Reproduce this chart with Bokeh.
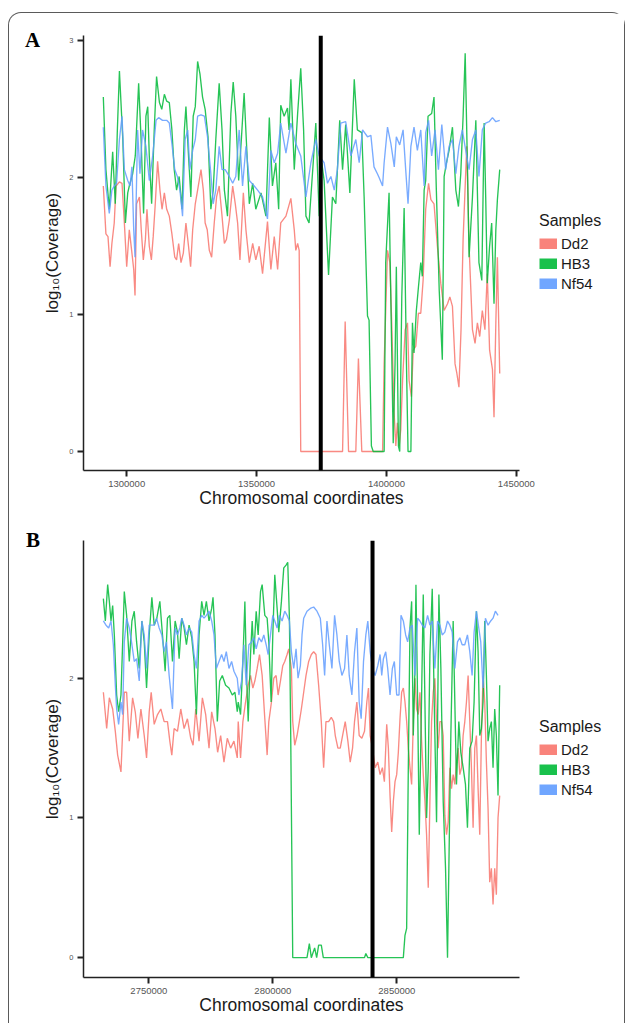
from bokeh.plotting import figure
from bokeh.models import (Span, Legend, LegendItem, Range1d, FixedTicker,
                          BasicTickFormatter, Div)
from bokeh.layouts import column, row
from bokeh.embed import file_html
from bokeh.resources import INLINE

SAMPLES = ["Dd2", "HB3", "Nf54"]
COLORS = ["#F8766D", "#00BA38", "#619CFF"]

# ---------------- Panel A data: (position in kb, log10 coverage) ----------------
A_DD2 = [(1291.0,1.94),(1292.0,1.59),(1292.8,1.57),(1293.6,1.35),(1294.3,1.52),(1295.2,1.67),(1295.9,1.94),
 (1297.2,1.97),(1298.2,1.96),(1299.1,1.67),(1300.0,1.35),(1301.0,1.62),(1301.9,1.47),(1302.7,1.33),(1303.2,1.14),
 (1303.8,1.81),(1304.9,1.86),(1305.6,1.62),(1306.4,1.40),(1307.2,1.55),(1307.8,1.77),(1308.7,1.50),(1309.5,1.40),
 (1310.2,1.57),(1311.0,1.81),(1311.9,2.12),(1312.8,1.91),(1313.6,1.77),(1314.5,1.89),(1315.4,1.77),(1316.4,1.72),
 (1317.4,1.59),(1318.5,1.42),(1319.2,1.40),(1320.0,1.52),(1320.9,1.38),(1321.8,1.45),(1322.8,1.67),(1323.8,1.50),
 (1324.6,1.35),(1325.4,1.62),(1326.4,1.81),(1327.3,1.91),(1328.6,2.06),(1329.5,1.91),(1330.2,1.67),(1331.0,1.62),
 (1331.8,1.47),(1332.7,1.42),(1333.7,1.67),(1334.6,1.86),(1335.6,1.94),(1336.7,1.72),(1337.6,1.52),(1338.4,1.55),
 (1339.5,1.69),(1340.8,1.94),(1341.8,1.81),(1342.7,1.67),(1343.6,1.40),(1344.9,1.89),(1345.9,1.62),(1347.2,1.38),
 (1348.5,1.52),(1349.7,1.40),(1351.0,1.50),(1352.3,1.30),(1354.2,1.68),(1355.5,1.33),(1356.8,1.57),(1358.1,1.33),
 (1359.3,1.67),(1361.3,1.72),(1363.2,1.85),(1364.5,1.62),(1365.1,1.47),(1365.8,1.52),(1366.4,1.47),(1367.0,0.0),
 (1383.1,0.0),(1384.1,0.95),(1385.4,0.0),(1388.2,0.0),(1389.2,0.68),(1390.5,0.0),(1398.5,0.0),(1399.1,0.64),
 (1400.4,1.47),(1401.3,1.38),(1402.1,0.89),(1402.9,0.30),(1403.6,0.04),(1404.2,0.21),(1404.9,0.04),(1405.5,0.16),
 (1406.2,0.52),(1407.2,0.89),(1408.1,0.94),(1408.7,0.52),(1409.6,0.40),(1410.3,0.74),(1411.3,0.77),(1412.3,1.01),
 (1413.2,1.01),(1414.1,1.25),(1415.1,1.77),(1416.2,1.96),(1417.1,1.84),(1418.3,1.81),(1419.6,1.50),(1420.9,1.23),
 (1422.2,1.03),(1423.5,1.08),(1424.4,1.13),(1425.4,1.06),(1426.4,0.64),(1427.1,0.57),(1427.9,0.47),(1428.7,0.89),
 (1429.5,1.55),(1430.9,2.23),(1431.8,1.50),(1433.1,0.89),(1434.1,0.79),(1435.0,0.94),(1435.9,0.84),(1436.9,1.03),
 (1437.9,0.89),(1438.8,1.30),(1439.7,0.74),(1440.8,0.60),(1441.4,0.25),(1442.1,0.94),(1442.7,1.42),(1443.6,0.57)]

A_HB3 = [(1291.0,2.59),(1292.0,2.06),(1293.3,1.77),(1294.6,2.19),(1295.6,1.81),(1296.4,2.35),(1297.2,2.78),
 (1298.5,2.28),(1299.5,1.67),(1300.4,1.89),(1301.0,1.94),(1302.3,2.03),(1303.3,2.16),(1304.6,2.69),(1305.5,2.30),
 (1306.5,1.74),(1307.4,2.45),(1308.1,2.52),(1308.7,2.16),(1309.6,1.81),(1310.6,2.35),(1311.5,2.74),(1312.6,2.55),
 (1313.5,2.50),(1314.5,2.61),(1315.4,2.56),(1316.4,2.55),(1317.4,2.35),(1318.3,2.06),(1319.2,1.91),(1320.2,2.01),
 (1321.3,1.77),(1322.2,2.35),(1322.8,2.52),(1323.8,2.16),(1324.7,1.86),(1325.6,2.45),(1326.4,2.52),(1327.3,2.85),
 (1328.2,2.76),(1329.2,2.59),(1330.2,2.50),(1331.3,2.30),(1332.4,1.77),(1333.3,1.91),(1334.3,2.28),(1335.6,2.69),
 (1336.7,2.35),(1337.6,1.91),(1338.8,1.72),(1340.1,2.47),(1341.0,2.70),(1342.0,2.45),(1343.1,1.98),(1344.2,2.30),
 (1345.2,2.62),(1347.2,1.81),(1348.5,1.96),(1349.7,1.77),(1351.7,1.89),(1353.6,1.72),(1354.9,2.44),(1356.1,1.94),
 (1357.4,2.11),(1358.5,1.77),(1359.3,2.53),(1360.6,2.45),(1361.9,2.51),(1362.5,2.35),(1363.2,2.72),(1364.5,2.06),
 (1365.8,2.47),(1367.0,2.80),(1368.1,2.35),(1369.0,1.72),(1370.2,1.67),(1371.8,2.11),(1372.8,2.40),(1374.1,1.72),
 (1375.1,2.11),(1376.0,1.98),(1377.7,1.29),(1379.2,1.86),(1380.5,1.81),(1382.0,2.42),(1383.1,2.06),(1384.3,2.39),
 (1385.9,1.89),(1387.6,2.72),(1388.8,2.35),(1390.5,2.33),(1391.4,1.86),(1392.7,0.99),(1393.3,0.96),(1394.2,0.04),
 (1394.9,0.0),(1398.5,0.0),(1399.1,0.0),(1399.7,1.38),(1401.0,1.89),(1402.1,0.64),(1402.6,0.06),(1403.3,0.64),
 (1403.8,1.35),(1404.6,0.04),(1405.1,0.0),(1405.9,1.13),(1406.8,1.78),(1407.7,0.64),(1408.3,0.0),(1409.4,0.0),
 (1410.0,0.94),(1410.6,0.72),(1411.5,1.03),(1412.3,1.20),(1413.2,1.38),(1413.8,1.28),(1414.5,1.91),(1415.1,1.98),
 (1416.0,2.45),(1417.4,2.47),(1418.3,2.59),(1419.2,1.91),(1420.3,1.18),(1421.5,0.67),(1422.2,2.01),(1423.1,2.11),
 (1424.1,2.20),(1425.4,2.37),(1426.7,1.91),(1427.7,1.79),(1428.6,2.03),(1429.5,2.45),(1430.3,2.91),(1431.2,2.06),
 (1431.8,1.42),(1433.1,1.86),(1434.4,2.42),(1435.6,1.38),(1436.7,1.25),(1437.6,2.40),(1438.2,1.86),(1438.8,1.23),
 (1439.7,1.50),(1440.5,1.67),(1441.4,1.08),(1442.1,1.62),(1442.7,1.84),(1443.6,2.06)]

A_NF54 = [(1291.0,2.37),(1292.0,1.94),(1293.3,1.74),(1294.3,1.91),(1295.2,1.94),(1296.1,1.96),(1297.2,2.28),
 (1298.2,2.45),(1299.1,2.06),(1300.4,1.98),(1301.3,1.94),(1302.0,2.08),(1302.7,1.62),(1303.2,1.42),(1304.2,2.35),
 (1305.1,2.03),(1306.1,2.35),(1307.4,2.23),(1308.7,1.98),(1310.0,2.16),(1311.3,2.42),(1312.3,2.44),(1313.8,2.42),
 (1315.4,2.42),(1316.4,2.40),(1317.4,2.25),(1318.5,2.06),(1319.5,2.01),(1320.5,1.91),(1321.5,1.72),(1322.5,2.28),
 (1323.5,2.35),(1324.3,2.06),(1325.4,2.20),(1326.4,2.28),(1327.3,2.45),(1328.6,2.46),(1329.9,2.45),(1331.1,2.30),
 (1332.4,2.03),(1333.3,1.81),(1334.3,1.91),(1335.6,2.23),(1336.7,2.06),(1337.9,2.06),(1339.5,2.01),(1340.8,1.96),
 (1342.0,2.01),(1343.3,2.35),(1344.6,1.94),(1345.9,2.23),(1347.2,1.98),(1349.1,1.94),(1350.4,1.91),(1352.3,1.86),
 (1354.2,1.70),(1355.5,2.20),(1356.8,2.11),(1358.1,2.18),(1359.3,2.40),(1361.3,2.18),(1363.2,2.40),(1365.1,2.25),
 (1367.0,2.16),(1369.0,1.86),(1370.9,2.11),(1372.8,2.28),(1374.1,2.16),(1376.0,2.11),(1377.3,1.96),(1378.6,2.01),
 (1379.9,1.91),(1381.1,2.06),(1382.4,2.40),(1384.3,2.41),(1386.3,2.16),(1388.2,2.28),(1389.5,2.11),(1390.8,2.35),
 (1392.7,2.30),(1394.0,2.31),(1395.2,2.08),(1396.5,2.03),(1397.2,2.00),(1398.5,1.94),(1399.1,2.11),(1400.4,2.37),
 (1401.7,2.25),(1403.0,2.08),(1403.8,2.30),(1405.1,2.24),(1406.4,2.35),(1407.4,2.06),(1408.3,1.81),(1409.4,2.23),
 (1410.6,2.37),(1411.9,2.20),(1413.2,2.35),(1414.5,1.94),(1415.1,2.33),(1416.2,2.42),(1417.4,2.16),(1418.7,2.35),
 (1420.0,2.06),(1421.3,2.39),(1422.8,2.06),(1424.1,2.23),(1425.4,2.28),(1426.7,2.03),(1427.9,2.23),(1429.2,2.35),
 (1430.5,2.20),(1431.8,2.06),(1433.1,2.28),(1434.4,2.35),(1435.6,2.01),(1436.9,2.35),(1438.2,2.40),(1439.5,2.41),
 (1440.8,2.44),(1442.1,2.41),(1443.6,2.42)]

# ---------------- Panel B data ----------------
B_DD2 = [(2731.65,1.90),(2732.99,1.64),(2734.06,1.86),(2735.4,1.78),(2736.47,1.62),(2737.41,1.45),(2738.75,1.33),
 (2740.09,1.90),(2741.03,1.90),(2742.1,1.55),(2743.44,1.86),(2744.51,1.76),(2745.58,1.57),(2746.79,1.78),
 (2748.13,1.59),(2749.07,1.43),(2750.14,1.76),(2750.94,1.90),(2752.15,1.67),(2753.49,1.74),(2754.83,1.78),
 (2756.17,1.69),(2757.51,1.69),(2758.45,1.55),(2759.25,1.45),(2760.19,1.64),(2761.53,1.62),(2762.87,1.78),
 (2764.21,1.64),(2765.55,1.71),(2766.89,1.57),(2767.83,1.52),(2768.9,1.78),(2770.24,1.55),(2771.58,1.86),
 (2772.92,1.74),(2774.26,1.50),(2775.33,1.76),(2776.67,1.64),(2777.74,1.47),(2778.95,1.59),(2780.29,1.40),
 (2781.63,1.57),(2782.97,1.50),(2784.31,1.55),(2785.65,1.43),(2786.04,1.69),(2786.98,1.43),(2787.92,1.69),
 (2788.99,1.83),(2790.06,1.95),(2791.0,2.02),(2791.94,1.93),(2792.74,1.98),(2793.68,2.07),(2794.62,2.17),
 (2795.69,2.02),(2796.76,1.71),(2797.7,1.45),(2798.37,1.69),(2799.44,1.83),(2800.38,2.00),(2801.32,2.02),
 (2802.12,1.88),(2803.06,1.98),(2804.0,2.09),(2804.8,2.12),(2805.74,2.17),(2806.41,2.21),(2807.48,2.07),
 (2808.02,1.69),(2808.82,1.52),(2809.76,1.59),(2810.7,1.69),(2811.5,1.78),(2812.44,1.90),(2813.38,2.02),
 (2814.45,2.12),(2815.52,2.17),(2816.46,2.19),(2817.4,2.17),(2818.47,1.95),(2819.54,1.69),(2820.48,1.36),
 (2821.42,1.69),(2822.49,1.69),(2823.56,1.72),(2824.5,1.69),(2825.17,1.59),(2826.24,1.50),(2827.18,1.50),
 (2828.12,1.59),(2829.19,1.69),(2830.26,1.55),(2831.2,1.40),(2832.14,1.50),(2832.94,1.69),(2833.88,1.83),
 (2834.82,1.59),(2835.89,1.57),(2836.96,1.62),(2837.9,1.83),(2838.57,1.93),(2839.24,1.59),(2840.18,1.50),
 (2841.25,1.36),(2842.32,1.40),(2843.24,1.31),(2844.18,1.36),(2844.98,1.26),(2845.92,1.67),(2846.59,1.50),
 (2847.26,1.16),(2847.93,0.90),(2848.6,1.12),(2849.27,1.26),(2849.94,1.31),(2850.61,1.47),(2851.28,1.71),
 (2851.95,1.90),(2852.62,1.93),(2853.29,1.83),(2853.96,1.69),(2854.63,1.50),(2855.3,1.36),(2855.97,1.24),
 (2856.64,1.69),(2857.31,2.00),(2857.98,1.78),(2858.65,1.74),(2859.32,1.90),(2859.99,1.55),(2860.66,1.31),
 (2861.33,1.12),(2862.0,0.88),(2862.67,0.50),(2863.34,1.12),(2864.01,1.69),(2864.68,1.90),(2865.35,2.00),
 (2866.02,1.69),(2866.69,1.50),(2867.36,1.69),(2868.03,1.69),(2868.7,1.59),(2869.37,1.02),(2870.04,0.88),
 (2870.71,0.97),(2871.38,1.36),(2872.05,1.21),(2872.72,1.31),(2873.39,1.24),(2874.06,1.40),(2874.73,1.50),
 (2875.4,1.31),(2876.07,1.36),(2876.74,1.59),(2877.41,1.69),(2878.08,1.83),(2878.75,2.02),(2879.42,1.69),
 (2880.09,1.36),(2880.76,0.93),(2881.43,1.50),(2882.1,1.59),(2882.77,1.21),(2883.44,0.88),(2884.11,1.59),
 (2884.78,2.02),(2885.45,1.83),(2886.12,1.40),(2886.79,1.07),(2887.46,0.54),(2888.13,0.64),(2888.8,0.38),
 (2889.47,0.64),(2890.14,0.45),(2890.81,1.00),(2891.48,1.16)]

B_HB3 = [(2731.65,2.57),(2732.45,2.41),(2733.39,2.67),(2734.06,2.55),(2734.73,2.41),(2735.4,2.52),(2736.07,2.31),
 (2737.01,1.88),(2737.81,1.76),(2738.75,1.88),(2740.09,2.62),(2741.03,2.45),(2742.1,2.12),(2743.17,2.41),
 (2744.11,2.48),(2745.05,2.26),(2746.12,2.07),(2747.19,2.41),(2748.13,2.26),(2749.07,1.93),(2750.14,2.31),
 (2751.21,2.58),(2752.15,2.38),(2753.22,2.43),(2754.43,2.55),(2755.5,2.31),(2756.57,2.05),(2757.51,2.43),
 (2758.45,2.45),(2759.52,2.12),(2760.59,2.41),(2761.53,2.33),(2762.2,2.14),(2763.27,2.43),(2764.21,2.36),
 (2765.15,2.24),(2766.22,2.38),(2767.29,2.29),(2768.23,2.12),(2769.17,1.74),(2770.24,2.31),(2771.31,2.55),
 (2772.25,2.45),(2773.19,2.55),(2774.26,2.41),(2775.33,2.50),(2775.87,2.58),(2776.67,2.31),(2777.61,1.69),
 (2778.55,1.98),(2779.62,2.02),(2780.96,1.95),(2782.3,1.93),(2783.64,1.88),(2784.71,1.90),(2785.65,1.76),
 (2786.04,1.83),(2786.98,1.74),(2787.92,2.12),(2788.72,2.55),(2789.39,2.02),(2790.06,1.69),(2791.0,2.17),
 (2791.67,2.41),(2792.34,2.17),(2793.28,2.48),(2794.08,2.31),(2795.02,2.62),(2795.69,2.67),(2796.76,2.45),
 (2797.7,2.43),(2798.37,2.26),(2799.31,1.83),(2799.98,2.31),(2800.78,2.74),(2801.72,2.50),(2802.39,2.33),
 (2803.46,2.55),(2804.4,2.79),(2805.34,2.81),(2806.01,2.83),(2806.68,2.43),(2807.21,1.59),(2808.02,0.0),
 (2813.78,0.0),(2814.72,0.10),(2815.52,0.0),(2816.86,0.07),(2817.67,0.0),(2818.47,0.09),(2819.54,0.09),
 (2820.35,0.0),(2836.96,0.0),(2837.5,0.03),(2838.3,0.0),(2852.62,0.0),(2853.29,0.16),(2853.96,0.21),
 (2854.63,1.36),(2855.3,2.36),(2855.97,2.55),(2856.64,1.59),(2857.31,2.07),(2857.71,2.67),(2858.38,1.83),
 (2859.05,0.88),(2859.72,1.59),(2860.66,2.60),(2861.33,1.83),(2862.0,1.00),(2862.67,1.36),(2863.34,2.17),
 (2864.28,2.64),(2865.08,1.83),(2866.02,0.97),(2866.96,2.60),(2867.76,2.07),(2868.7,1.12),(2869.64,0.64),
 (2870.44,0.0),(2870.98,0.64),(2871.78,1.59),(2872.72,2.41),(2873.39,1.83),(2874.06,1.24),(2875.0,1.69),
 (2875.8,1.47),(2876.74,1.36),(2877.68,1.24),(2878.48,0.93),(2879.42,1.50),(2880.36,1.55),(2881.16,1.83),
 (2882.1,2.48),(2882.77,2.19),(2883.44,1.59),(2884.11,1.64),(2884.78,1.83),(2885.45,2.41),(2886.12,2.02),
 (2886.79,1.55),(2887.46,1.64),(2888.13,1.69),(2888.8,1.36),(2889.47,1.78),(2890.14,1.59),(2890.81,1.16),
 (2891.48,1.95)]

B_NF54 = [(2731.65,2.41),(2732.72,2.38),(2733.79,2.36),(2734.73,2.41),(2735.67,2.24),(2736.47,1.95),(2737.01,1.78),
 (2737.81,1.67),(2738.75,1.83),(2739.42,1.74),(2740.09,2.26),(2741.03,2.43),(2742.1,2.36),(2743.17,2.24),
 (2744.11,2.12),(2745.05,2.14),(2746.12,1.98),(2747.19,2.41),(2748.13,2.31),(2749.07,2.07),(2750.14,2.38),
 (2751.21,2.38),(2752.15,2.38),(2753.09,2.43),(2754.16,2.36),(2755.23,2.31),(2756.17,2.19),(2757.11,2.26),
 (2758.18,2.02),(2759.52,1.78),(2760.59,2.36),(2761.53,2.31),(2762.47,2.36),(2763.27,2.43),(2764.21,2.38),
 (2765.15,2.31),(2766.22,2.36),(2767.29,2.33),(2768.23,2.17),(2769.17,2.07),(2770.24,2.41),(2771.31,2.45),
 (2772.25,2.43),(2773.19,2.45),(2774.26,2.48),(2775.33,2.41),(2776.27,2.31),(2777.21,2.07),(2778.28,2.12),
 (2779.35,2.17),(2780.29,2.12),(2781.23,2.19),(2782.3,2.07),(2783.37,2.12),(2784.31,2.05),(2785.65,2.00),
 (2786.31,1.88),(2787.38,1.98),(2788.32,2.24),(2789.26,1.95),(2790.33,2.24),(2791.4,2.26),(2792.34,2.29),
 (2793.28,2.21),(2794.35,2.29),(2795.42,2.26),(2796.36,2.31),(2797.3,2.24),(2798.1,2.17),(2799.04,2.31),
 (2799.98,2.45),(2800.78,2.41),(2801.72,2.36),(2802.66,2.45),(2803.73,2.41),(2804.8,2.48),(2805.74,2.45),
 (2806.68,2.41),(2807.48,2.19),(2808.42,2.07),(2809.36,2.21),(2810.16,2.00),(2811.1,2.09),(2811.77,2.31),
 (2812.44,2.43),(2813.78,2.48),(2815.12,2.50),(2816.46,2.51),(2817.8,2.48),(2819.14,2.43),(2820.08,2.24),
 (2820.88,2.02),(2821.82,2.41),(2822.76,2.24),(2823.83,2.07),(2824.9,2.45),(2825.84,2.31),(2826.78,2.12),
 (2827.85,2.02),(2828.92,2.07),(2829.86,2.31),(2830.8,2.02),(2831.87,1.88),(2832.94,2.19),(2833.88,2.36),
 (2834.82,1.83),(2835.62,1.71),(2836.56,2.12),(2837.5,2.31),(2838.3,2.41),(2839.24,2.19),(2840.18,2.07),
 (2841.25,2.02),(2842.32,2.09),(2843.24,2.17),(2843.91,2.02),(2844.58,2.14),(2845.52,2.19),(2846.32,2.07),
 (2847.26,1.88),(2848.2,2.07),(2849.0,2.12),(2849.94,1.88),(2850.88,1.88),(2851.68,2.45),(2852.62,2.41),
 (2853.56,2.31),(2854.36,2.26),(2855.3,2.36),(2856.24,2.38),(2857.31,2.02),(2858.38,2.43),(2859.32,2.41),
 (2860.26,2.38),(2861.33,2.36),(2862.4,2.45),(2863.34,2.38),(2864.28,2.41),(2865.35,2.07),(2866.42,2.41),
 (2867.36,2.38),(2868.3,2.31),(2869.37,2.33),(2870.44,2.41),(2871.38,2.38),(2872.32,2.33),(2873.39,2.07),
 (2874.46,2.26),(2875.4,2.29),(2876.34,2.24),(2877.41,2.24),(2878.48,2.31),(2879.42,2.19),(2880.36,2.02),
 (2881.16,2.33),(2882.1,2.48),(2883.04,2.36),(2883.84,2.26),(2884.78,1.93),(2885.72,2.43),(2886.79,2.38),
 (2887.86,2.41),(2888.8,2.43),(2889.74,2.48),(2890.81,2.45)]

A_VLINE = 1374700
B_VLINE = 2840200
A_XRANGE = (1283370, 1451210)
B_XRANGE = (2723640, 2899470)
A_YRANGE = (-0.139, 3.04)
B_YRANGE = (-0.142, 2.986)
A_XTICKS = [1300000, 1350000, 1400000, 1450000]
B_XTICKS = [2750000, 2800000, 2850000, 2900000]
Y_TICKS = [0, 1, 2, 3]

FONT = "Liberation Sans"
FRAME_W = 436
LETTER_W = 31
MAIN_LEFT = 43
MAIN_RIGHT = 20
LEGEND_W = 85
NAN = float("nan")


def make_panel(letter, series, vline, xr, yr, xticks, frame_h, top, bottom, letter_pad):
    height = frame_h + top + bottom
    p = figure(frame_width=FRAME_W, frame_height=frame_h,
               output_backend="svg", toolbar_location=None,
               x_range=Range1d(*xr), y_range=Range1d(*yr),
               min_border_left=MAIN_LEFT, min_border_right=MAIN_RIGHT, min_border_top=top,
               min_border_bottom=bottom, background_fill_color="white",
               border_fill_color="white")
    p.grid.visible = False
    p.outline_line_color = None

    for data, col in zip(series, COLORS):
        xs = [d[0] * 1000 for d in data]
        ys = [d[1] for d in data]
        p.line(xs, ys, line_color=col, line_width=1.35, line_alpha=0.85)

    p.add_layout(Span(location=vline, dimension="height", line_color="black", line_width=4))

    for ax in (p.xaxis[0], p.yaxis[0]):
        ax.axis_line_color = "#222222"
        ax.axis_line_width = 1.5
        ax.major_tick_line_color = "#222222"
        ax.major_tick_line_width = 2
        ax.major_tick_out = 6
        ax.major_tick_in = 0
        ax.minor_tick_line_color = None
        ax.major_label_text_color = "#555555"
        ax.major_label_text_font = FONT
        ax.axis_label_text_font = FONT
        ax.axis_label_text_font_style = "normal"
        ax.axis_label_text_color = "#1a1a1a"

    p.xaxis.ticker = FixedTicker(ticks=xticks)
    p.xaxis.formatter = BasicTickFormatter(use_scientific=False)
    p.xaxis.major_label_text_font_size = "9.5px"
    p.xaxis.major_label_standoff = 4
    p.xaxis.axis_label = "Chromosomal coordinates"
    p.xaxis.axis_label_text_font_size = "17.5px"
    p.xaxis.axis_label_standoff = -2

    p.yaxis.ticker = FixedTicker(ticks=Y_TICKS)
    p.yaxis.major_label_text_font_size = "7.5px"
    p.yaxis.major_label_standoff = 4
    p.yaxis.axis_label = "log\u2081\u2080(Coverage)"
    p.yaxis.axis_label_text_font_size = "17px"
    p.yaxis.axis_label_standoff = 4

    # legend in its own strip to the right of the plot
    lg = figure(width=LEGEND_W, height=height, output_backend="svg", toolbar_location=None,
                x_axis_location=None, y_axis_location=None,
                x_range=Range1d(0, 1), y_range=Range1d(0, 1),
                min_border_left=0, min_border_right=0, min_border_top=top,
                min_border_bottom=bottom, background_fill_color="white",
                border_fill_color="white")
    lg.grid.visible = False
    lg.outline_line_color = None
    items = []
    for name, col in zip(SAMPLES, COLORS):
        r = lg.line(x=[NAN], y=[NAN], line_color=col, line_width=11, line_alpha=0.9)
        items.append(LegendItem(label=name, renderers=[r]))
    legend = Legend(items=items, title="Samples", location="center_left",
                    title_text_font=FONT, title_text_font_size="16px",
                    title_text_font_style="normal", title_text_color="#1a1a1a",
                    label_text_font=FONT, label_text_font_size="15px",
                    label_text_color="#1a1a1a", glyph_width=18, glyph_height=11,
                    label_standoff=4, label_height=20, spacing=0, title_standoff=4,
                    margin=0, padding=0, border_line_color=None,
                    background_fill_alpha=0)
    lg.add_layout(legend, "center")

    # panel letter to the left of the plot
    lt = Div(text=(f'<div style="font-family:\'Liberation Serif\',serif;font-weight:bold;'
                   f'font-size:21px;line-height:24px;color:#000;white-space:nowrap;'
                   f'padding-top:{letter_pad[1]}px;padding-left:{letter_pad[0]}px;">{letter}</div>'),
             width=LETTER_W, height=height, margin=0)
    return row(lt, p, lg)


pA = make_panel("A", [A_DD2, A_HB3, A_NF54], A_VLINE, A_XRANGE, A_YRANGE, A_XTICKS,
                435, 22, 46, (16, 15))
pB = make_panel("B", [B_DD2, B_HB3, B_NF54], B_VLINE, B_XRANGE, B_YRANGE, B_XTICKS,
                437, 24, 46, (17, 12))

layout = column(pA, pB, styles={"border": "1.5px solid #5a5a5a", "border-bottom": "none",
                                "border-radius": "13px 13px 0 0", "margin-top": "12px",
                                "margin-left": "8px"})

open("out.html", "w").write(file_html(layout, INLINE))
